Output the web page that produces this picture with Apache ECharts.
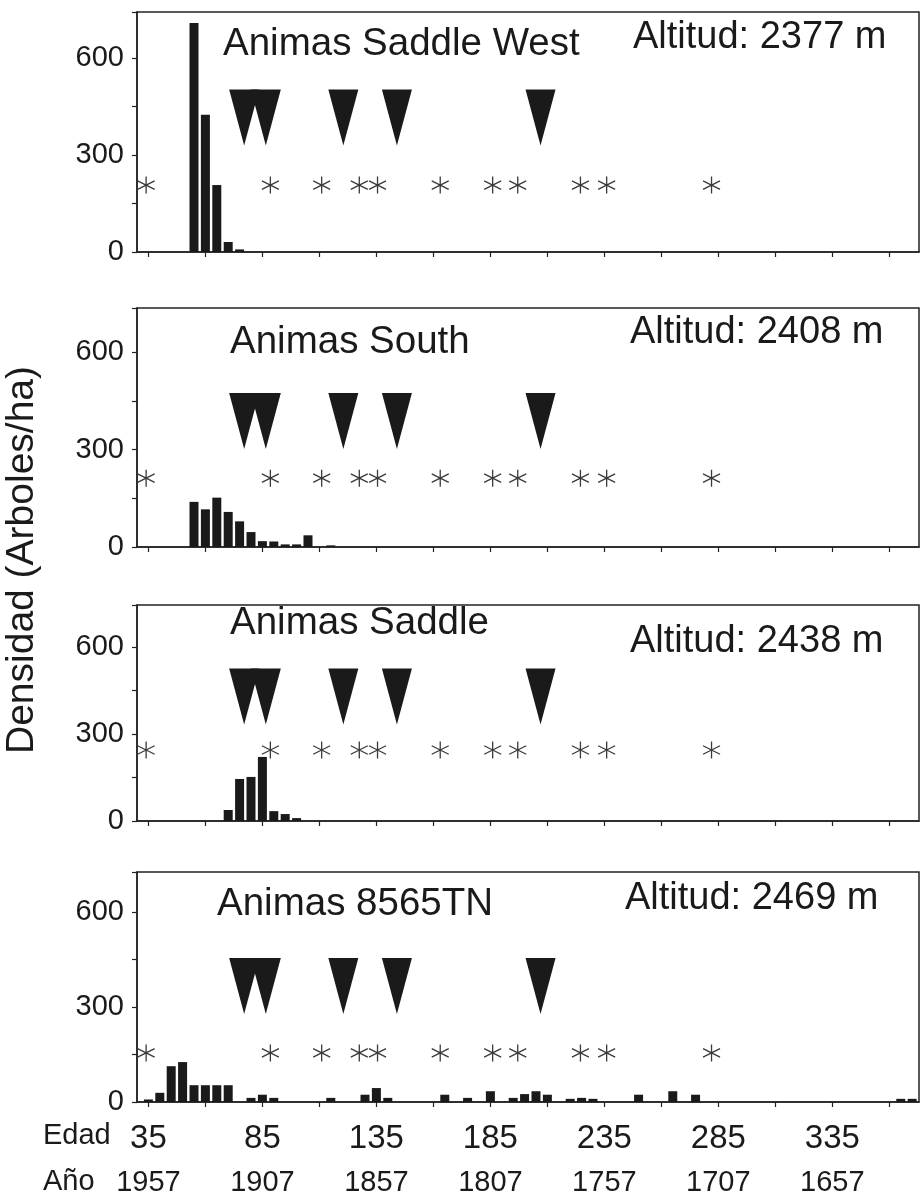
<!DOCTYPE html>
<html>
<head>
<meta charset="utf-8">
<script src="https://cdn.jsdelivr.net/npm/echarts@6/dist/echarts.min.js"></script>
<style>
  html, body { margin: 0; padding: 0; background: #fff; }
  #chart { width: 924px; height: 1202px; }
</style>
</head>
<body>
<div id="chart"></div>
<script>
// edad (años) de cada clase de 5 años y densidad (árboles/ha)
var edadSW = [55, 60, 65, 70, 75];
var densSW = [708, 424, 207, 31, 8];

var edadSouth = [55, 60, 65, 70, 75, 80, 85, 90, 95, 100, 105, 115];
var densSouth = [139, 116, 152, 108, 79, 46, 18, 17, 8, 8, 36, 5];

var edadSaddle = [70, 75, 80, 85, 90, 95, 100];
var densSaddle = [38, 145, 152, 221, 34, 24, 10];

var edadTN = [35, 40, 45, 50, 55, 60, 65, 70, 80, 85, 90, 115, 130, 135, 140, 165, 175, 185, 195, 200, 205, 210, 220, 225, 230, 250, 265, 275, 365, 370];
var densTN = [8, 29, 113, 126, 53, 53, 53, 53, 13, 23, 13, 13, 23, 44, 13, 23, 13, 34, 13, 25, 34, 23, 10, 13, 10, 23, 34, 23, 10, 10];

// incendios (triángulos) y cicatrices (asteriscos), en edad
var edadIncendio = [77, 86.5, 120.5, 144, 207];
var edadCicatriz = [34, 88.5, 111, 127.5, 135.5, 163, 186, 197, 224.5, 236, 282];
var nivelIncendio = [416, 388, 429, 366];
var nivelCicatriz = [207, 212, 245, 155];

var sitios = ['Animas Saddle West', 'Animas South', 'Animas Saddle', 'Animas 8565TN'];
var altitudes = ['Altitud: 2377 m', 'Altitud: 2408 m', 'Altitud: 2438 m', 'Altitud: 2469 m'];

var edadTicks = [35, 60, 85, 110, 135, 160, 185, 210, 235, 260, 285, 310, 335, 360];
var edadLabels = [35, 85, 135, 185, 235, 285, 335];
var anoLabels = [1957, 1907, 1857, 1807, 1757, 1707, 1657];
var yMax = [742, 736, 745, 726];

var edades = [edadSW, edadSouth, edadSaddle, edadTN];
var densidades = [densSW, densSouth, densSaddle, densTN];

// layout of the four panels
var panelTop = [12, 308, 605, 872];
var panelH = [240, 239, 216, 230];
var nameY = [47, 345, 626, 907];
var nameX = [223, 230, 230, 217];
var altY = [41, 336, 645, 902];
var altX = [633, 630, 630, 625];

var FONT = '"Liberation Sans", Arial, Helvetica, sans-serif';
var INK = '#1a1a1a';
var asterisco = 'path://M10,0L10,20M1.34,5L18.66,15M1.34,15L18.66,5';

var grids = [], xAxes = [], yAxes = [], series = [], graphics = [];

for (var i = 0; i < 4; i++) {
  grids.push({
    left: 137, right: 5, top: panelTop[i], height: panelH[i],
    show: true, borderColor: '#222', borderWidth: 1.5
  });
  xAxes.push({
    type: 'value', gridIndex: i, min: 30, max: 373,
    axisLine: { show: true, onZero: false, lineStyle: { color: '#222', width: 1.5 } },
    axisTick: { show: true, customValues: edadTicks, length: 5, lineStyle: { color: '#222', width: 1.2 } },
    splitLine: { show: false },
    axisLabel: {
      show: i === 3,
      customValues: edadLabels,
      margin: 16,
      fontFamily: FONT,
      color: '#1a1a1a',
      formatter: function (v) {
        var k = edadLabels.indexOf(v);
        return '{e|' + v + '}\n{a|' + (k >= 0 ? anoLabels[k] : '') + '}';
      },
      rich: {
        e: { fontSize: 33, lineHeight: 42, fontFamily: FONT, color: '#1a1a1a' },
        a: { fontSize: 29, lineHeight: 46, fontFamily: FONT, color: '#1a1a1a' }
      }
    }
  });
  yAxes.push({
    type: 'value', gridIndex: i, min: 0, max: yMax[i], interval: 150,
    axisLine: { show: true, lineStyle: { color: '#222', width: 1.5 } },
    axisTick: { show: true, length: 5, lineStyle: { color: '#222', width: 1.2 } },
    splitLine: { show: false },
    axisLabel: {
      margin: 13, fontSize: 29, fontFamily: FONT, color: '#1a1a1a',
      formatter: function (v) { return (v % 300 === 0 && v <= 600) ? String(v) : ''; }
    }
  });

  series.push({
    type: 'bar', xAxisIndex: i, yAxisIndex: i, barWidth: 9,
    itemStyle: { color: INK },
    data: edades[i].map(function (a, k) { return [a, densidades[i][k]]; })
  });
  series.push({
    type: 'scatter', xAxisIndex: i, yAxisIndex: i,
    symbol: 'triangle', symbolRotate: 180, symbolSize: [30, 56],
    itemStyle: { color: INK, opacity: 1 },
    data: edadIncendio.map(function (a) { return [a, nivelIncendio[i]]; })
  });
  series.push({
    type: 'scatter', xAxisIndex: i, yAxisIndex: i,
    symbol: asterisco, symbolSize: 17,
    itemStyle: { color: 'none', borderColor: '#3a3a3a', borderWidth: 1.3, opacity: 1 },
    data: edadCicatriz.map(function (a) { return [a, nivelCicatriz[i]]; })
  });

  graphics.push({
    type: 'text', left: nameX[i], top: nameY[i] - 22,
    style: { text: sitios[i], font: '38.5px ' + FONT, fill: '#1a1a1a' }
  });
  graphics.push({
    type: 'text', left: altX[i], top: altY[i] - 22,
    style: { text: altitudes[i], font: '38px ' + FONT, fill: '#1a1a1a' }
  });
}

graphics.push({
  type: 'text', x: 22, y: 560, rotation: Math.PI / 2,
  style: { text: 'Densidad (Arboles/ha)', font: '39px ' + FONT, fill: '#1a1a1a', textAlign: 'center', textVerticalAlign: 'middle' }
});
graphics.push({
  type: 'text', left: 43, top: 1121,
  style: { text: 'Edad', font: '29px ' + FONT, fill: '#1a1a1a' }
});
graphics.push({
  type: 'text', left: 43, top: 1167,
  style: { text: 'Año', font: '29px ' + FONT, fill: '#1a1a1a' }
});

var chart = echarts.init(document.getElementById('chart'));
chart.setOption({
  animation: false,
  backgroundColor: '#fff',
  grid: grids,
  xAxis: xAxes,
  yAxis: yAxes,
  series: series,
  graphic: graphics
});
</script>
</body>
</html>
